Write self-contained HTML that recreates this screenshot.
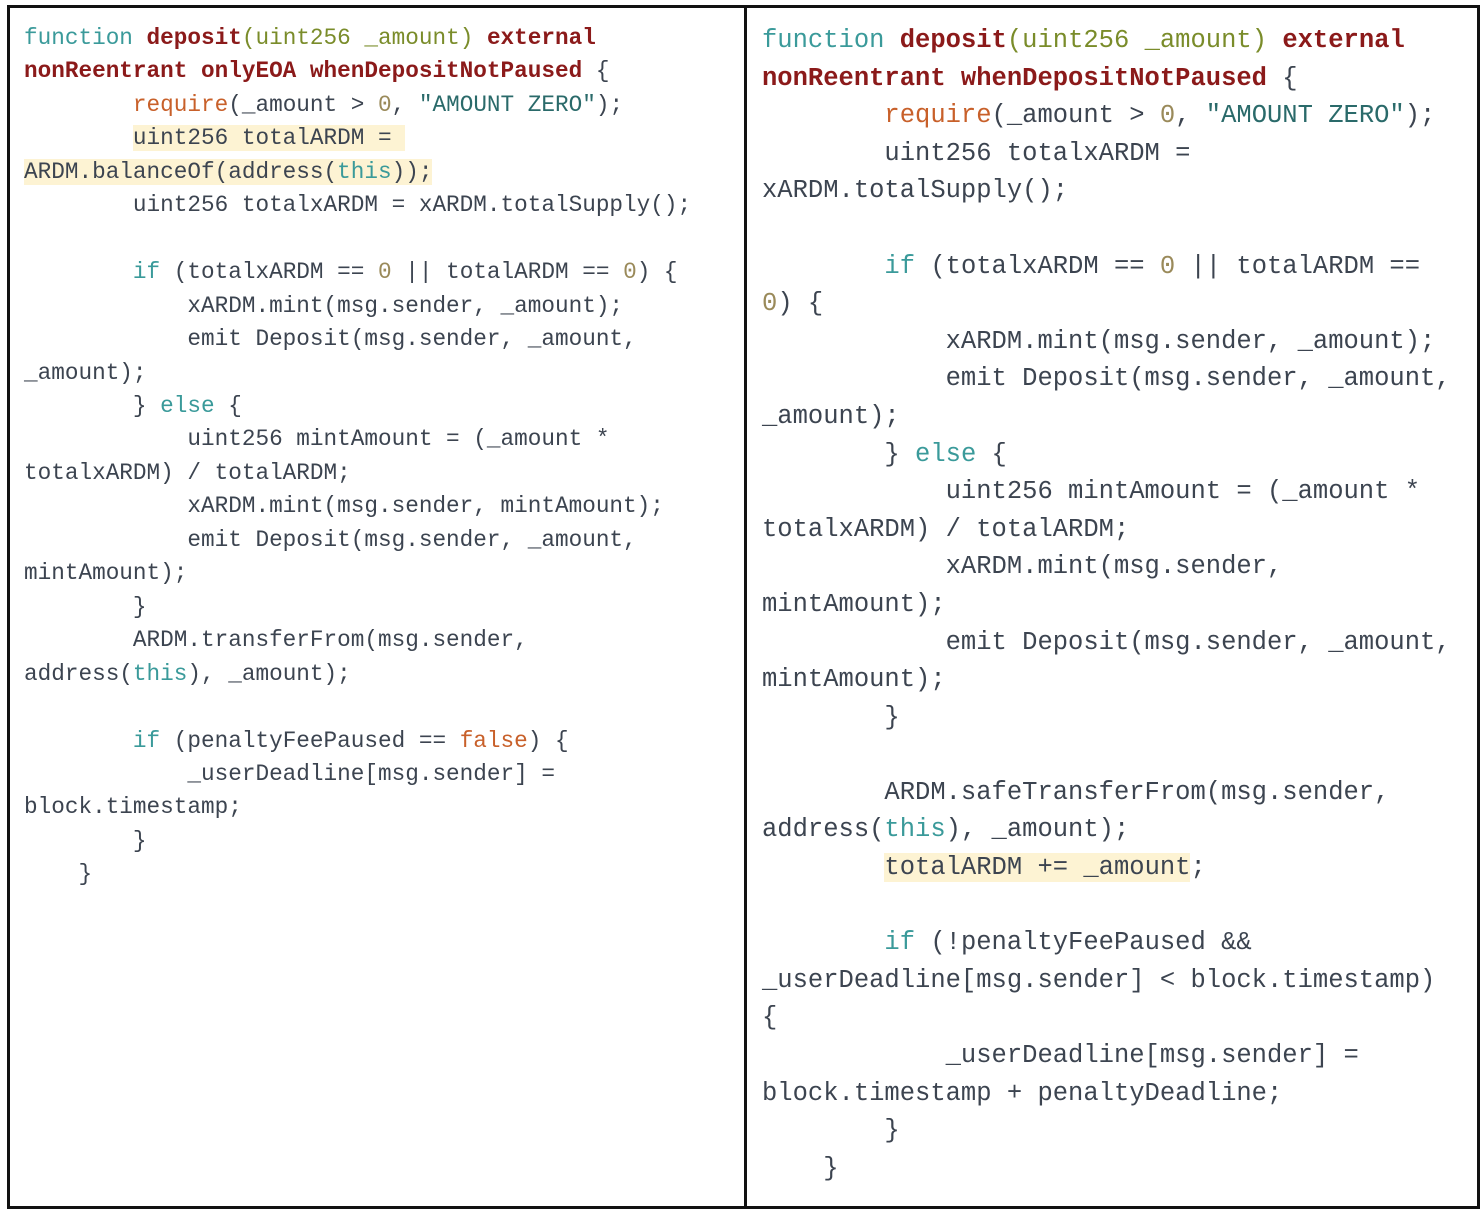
<!DOCTYPE html>
<html><head><meta charset="utf-8"><style>
html,body{margin:0;padding:0;background:#fff;}
body{width:1484px;height:1212px;position:relative;overflow:hidden;}
.frame{position:absolute;left:7px;top:5px;width:1467px;height:1198px;border:3px solid #111;box-sizing:content-box;}
.div{position:absolute;left:744px;top:5px;width:3px;height:1204px;background:#111;}
pre{position:absolute;margin:0;font-family:"Liberation Mono",monospace;color:#3c4450;white-space:pre;}
#L{left:24px;top:22px;font-size:22.7px;line-height:33.45px;}
#R{left:762px;top:22px;font-size:25.5px;line-height:37.6px;}
.f{color:#3a9a9a}.k{color:#8b1a1a;font-weight:bold}.p{color:#7a8c2a}.r{color:#c8602a}.n{color:#9a8a5a}.s{color:#2a6a6a}.h{background:#fdf3d3}
</style></head><body>
<div class="frame"></div><div class="div"></div>
<pre id="L"><span class="f">function</span> <span class="k">deposit</span><span class="p">(uint256 _amount)</span> <span class="k">external</span>
<span class="k">nonReentrant onlyEOA whenDepositNotPaused</span> {
        <span class="r">require</span>(_amount &gt; <span class="n">0</span>, <span class="s">"AMOUNT ZERO"</span>);
        <span class="h">uint256 totalARDM = </span>
<span class="h">ARDM.balanceOf(address(<span class="f">this</span>));</span>
        uint256 totalxARDM = xARDM.totalSupply();

        <span class="f">if</span> (totalxARDM == <span class="n">0</span> || totalARDM == <span class="n">0</span>) {
            xARDM.mint(msg.sender, _amount);
            emit Deposit(msg.sender, _amount,
_amount);
        } <span class="f">else</span> {
            uint256 mintAmount = (_amount *
totalxARDM) / totalARDM;
            xARDM.mint(msg.sender, mintAmount);
            emit Deposit(msg.sender, _amount,
mintAmount);
        }
        ARDM.transferFrom(msg.sender,
address(<span class="f">this</span>), _amount);

        <span class="f">if</span> (penaltyFeePaused == <span class="r">false</span>) {
            _userDeadline[msg.sender] =
block.timestamp;
        }
    }</pre>
<pre id="R"><span class="f">function</span> <span class="k">deposit</span><span class="p">(uint256 _amount)</span> <span class="k">external</span>
<span class="k">nonReentrant whenDepositNotPaused</span> {
        <span class="r">require</span>(_amount &gt; <span class="n">0</span>, <span class="s">"AMOUNT ZERO"</span>);
        uint256 totalxARDM =
xARDM.totalSupply();

        <span class="f">if</span> (totalxARDM == <span class="n">0</span> || totalARDM ==
<span class="n">0</span>) {
            xARDM.mint(msg.sender, _amount);
            emit Deposit(msg.sender, _amount,
_amount);
        } <span class="f">else</span> {
            uint256 mintAmount = (_amount *
totalxARDM) / totalARDM;
            xARDM.mint(msg.sender,
mintAmount);
            emit Deposit(msg.sender, _amount,
mintAmount);
        }

        ARDM.safeTransferFrom(msg.sender,
address(<span class="f">this</span>), _amount);
        <span class="h">totalARDM += _amount</span>;

        <span class="f">if</span> (!penaltyFeePaused &amp;&amp;
_userDeadline[msg.sender] &lt; block.timestamp)
{
            _userDeadline[msg.sender] =
block.timestamp + penaltyDeadline;
        }
    }</pre>
</body></html>
